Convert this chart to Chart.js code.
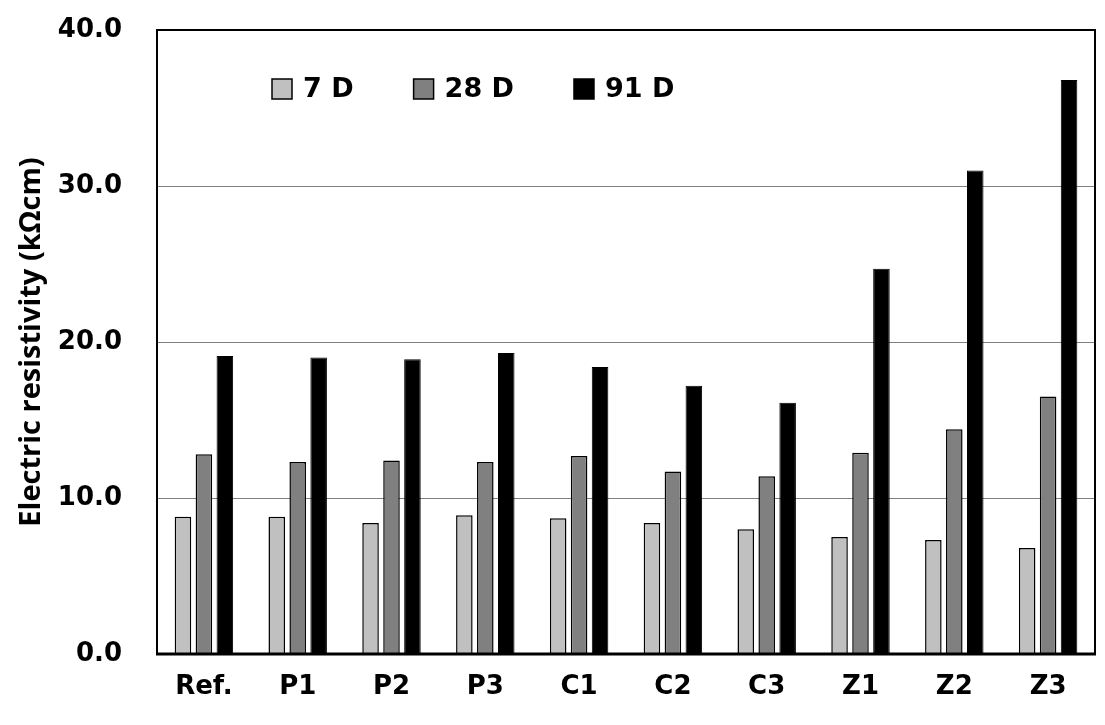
<!DOCTYPE html>
<html>
<head>
<meta charset="utf-8">
<script src="https://cdn.jsdelivr.net/npm/chart.js@4/dist/chart.umd.min.js"></script>
<style>
  html, body { margin: 0; padding: 0; background: #fff; }
  #wrap { width: 1105px; height: 725px; }
</style>
</head>
<body>
<div id="wrap"><canvas id="resistChart"></canvas></div>
<script>
const mixes = ['Ref.', 'P1', 'P2', 'P3', 'C1', 'C2', 'C3', 'Z1', 'Z2', 'Z3'];
const ages = ['7 D', '28 D', '91 D'];
const day7 = [8.8, 8.8, 8.4, 8.9, 8.7, 8.4, 8.0, 7.5, 7.3, 6.8];
const day28 = [12.8, 12.3, 12.4, 12.3, 12.7, 11.7, 11.4, 12.9, 14.4, 16.5];
const day91 = [19.1, 19.0, 18.9, 19.3, 18.4, 17.2, 16.1, 24.7, 31.0, 36.8];
const yTicks = [0, 10, 20, 30, 40];

const tickFont = { family: 'DejaVu Sans', weight: 'bold', size: 26 };

// box round the plot + legend inside the plot
const framePlugin = {
  id: 'frame',
  afterDraw(chart) {
    const ctx = chart.ctx;
    const a = chart.chartArea;
    ctx.save();
    ctx.strokeStyle = '#000';
    ctx.lineWidth = 2;
    ctx.strokeRect(a.left, a.top, a.right - a.left, a.bottom - a.top);
    ctx.lineWidth = 3;
    ctx.beginPath();
    ctx.moveTo(a.left - 1, a.bottom);
    ctx.lineTo(a.right + 1, a.bottom);
    ctx.stroke();

    ctx.font = 'bold 27px "DejaVu Sans"';
    ctx.textBaseline = 'middle';
    let x = a.left + 115;
    const y = a.top + 59;
    chart.data.datasets.forEach(ds => {
      ctx.fillStyle = ds.backgroundColor;
      ctx.fillRect(x, y - 10, 20, 20);
      ctx.lineWidth = 1.5;
      ctx.strokeStyle = '#000';
      ctx.strokeRect(x, y - 10, 20, 20);
      ctx.fillStyle = '#000';
      ctx.fillText(ds.label, x + 31, y + 1);
      x += 31 + ctx.measureText(ds.label).width + 60;
    });
    ctx.restore();
  }
};

new Chart(document.getElementById('resistChart').getContext('2d'), {
  type: 'bar',
  data: {
    labels: mixes,
    datasets: [
      { label: ages[0], data: day7, backgroundColor: '#c0c0c0', borderColor: '#000', borderWidth: 1.5 },
      { label: ages[1], data: day28, backgroundColor: '#808080', borderColor: '#000', borderWidth: 1.5 },
      { label: ages[2], data: day91, backgroundColor: '#000000', borderColor: '#000', borderWidth: 1 }
    ]
  },
  options: {
    responsive: true,
    maintainAspectRatio: false,
    animation: false,
    layout: { padding: { left: 0, top: 30, right: 10, bottom: 0 } },
    categoryPercentage: 0.67,
    barPercentage: 0.79,
    plugins: {
      legend: { display: false },
      tooltip: { enabled: false }
    },
    scales: {
      x: {
        grid: { display: false, drawTicks: false },
        border: { display: false },
        ticks: { color: '#000', font: tickFont, padding: 18 },
        afterFit(scale) { scale.height = 71; }
      },
      y: {
        min: yTicks[0],
        max: yTicks[yTicks.length - 1],
        grid: { color: '#808080', lineWidth: 1, drawTicks: false },
        border: { display: false },
        ticks: {
          stepSize: yTicks[1] - yTicks[0],
          color: '#000',
          font: tickFont,
          padding: 35,
          callback: v => v.toFixed(1)
        },
        title: {
          display: true,
          text: 'Electric resistivity (kΩcm)',
          color: '#000',
          font: { family: 'Open Sans', weight: 'bold', size: 29 },
          padding: { top: 14 }
        },
        afterFit(scale) {
          scale.width = 157;
          scale.paddingTop = 0;
          scale.paddingBottom = 0;
        }
      }
    }
  },
  plugins: [framePlugin]
});
</script>
</body>
</html>
